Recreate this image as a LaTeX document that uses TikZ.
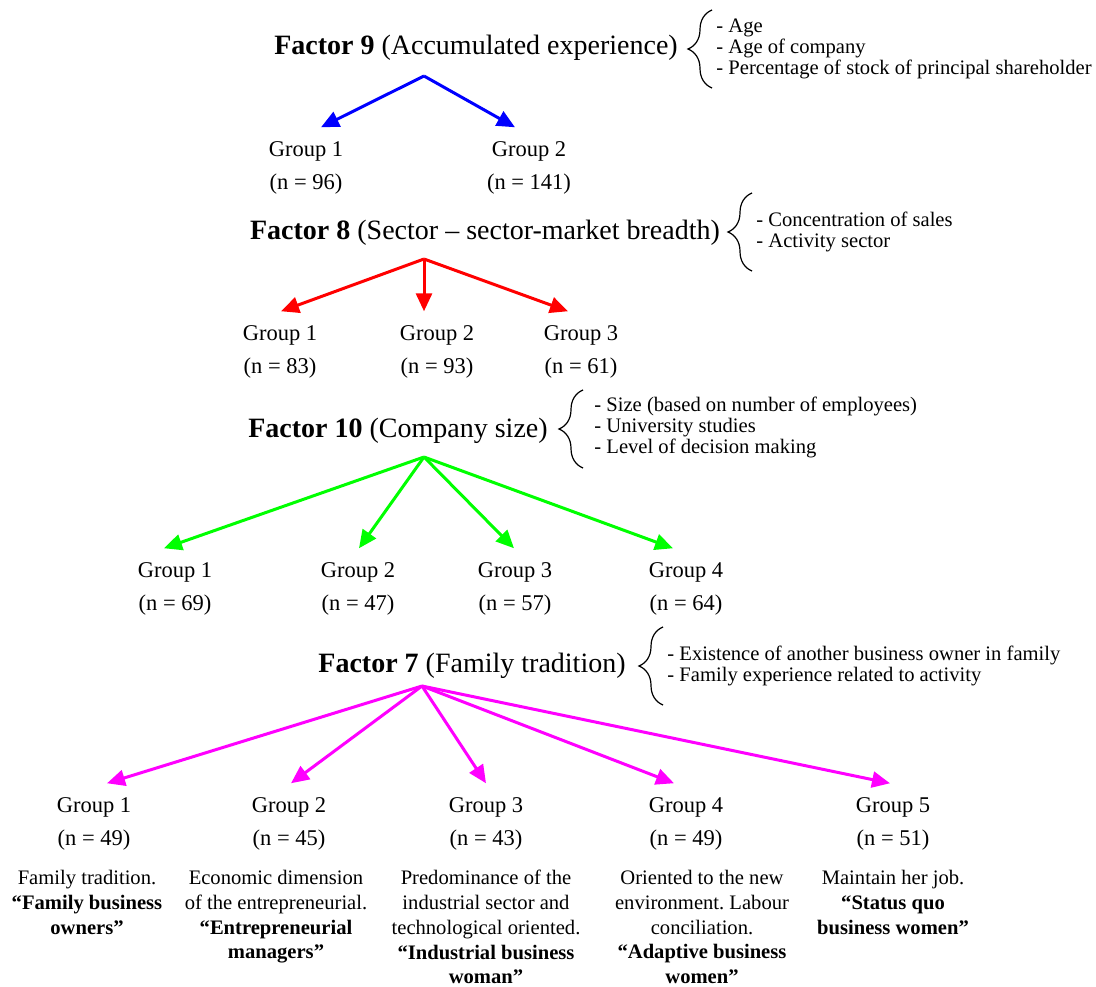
\documentclass[tikz,border=0pt]{standalone}
\usepackage{fontspec}
\setmainfont{Liberation Serif}
\usetikzlibrary{positioning,arrows.meta,decorations.pathreplacing}
\definecolor{linkblue}{RGB}{0,0,255}
\definecolor{linkred}{RGB}{255,0,0}
\definecolor{linkgreen}{RGB}{0,255,0}
\definecolor{linkmagenta}{RGB}{255,0,255}
\frenchspacing

\begin{document}
\begin{tikzpicture}[x=0.5pt,y=-0.5pt]
	\tikzstyle{factor}=[font=\fontsize{14}{16}\selectfont, inner sep=0pt]
	\tikzstyle{group}=[align=center, font=\fontsize{11.25}{16.5}\selectfont, inner xsep=0pt, inner ysep=7pt]
	\tikzstyle{items}=[align=left, anchor=west, font=\fontsize{10.3}{10.5}\selectfont, inner sep=0pt]
	\tikzstyle{profile}=[align=center, anchor=north, font=\fontsize{10.3}{12.35}\selectfont, inner sep=0pt]
	\tikzstyle{curly}=[decorate, decoration={brace, amplitude=12pt}, line width=0.6pt]
	\tikzstyle{split}=[-{Triangle[length=9pt,width=8pt]}, line width=1.5pt]
	\useasboundingbox (0,0) rectangle (1096,986);

	% Factor 9
	\node (f9) [factor] at (476,48) {\textbf{Factor 9} (Accumulated experience)};
	\node (l9) [items] at (716,49) {- Age\\- Age of company\\- Percentage of stock of principal shareholder};
	\draw[curly] ([xshift=-2pt,yshift=-19.5pt]l9.west) -- ([xshift=-2pt,yshift=19.5pt]l9.west);
	\coordinate (r9) at (424,76);
	\node (g91) [group] at (306,168) {Group 1\\(n = 96)};
	\node (g92) [group] at (529,168) {Group 2\\(n = 141)};
	\draw[split, linkblue] (r9) -- ([xshift=7.5pt]g91.north);
	\draw[split, linkblue] (r9) -- ([xshift=-7pt]g92.north);

	% Factor 8
	\node (f8) [factor] at (485,233) {\textbf{Factor 8} (Sector -- sector-market breadth)};
	\node (l8) [items] at (756,232) {- Concentration of sales\\- Activity sector};
	\draw[curly] ([xshift=-2pt,yshift=-19.5pt]l8.west) -- ([xshift=-2pt,yshift=19.5pt]l8.west);
	\coordinate (r8) at (424,259);
	\node (g81) [group] at (280,352) {Group 1\\(n = 83)};
	\node (g82) [group] at (437,352) {Group 2\\(n = 93)};
	\node (g83) [group] at (581,352) {Group 3\\(n = 61)};
	\draw[split, linkred] (r8) -- ([xshift=0.5pt]g81.north);
	\draw[split, linkred] (r8) -- ([xshift=-6.5pt]g82.north);
	\draw[split, linkred] (r8) -- ([xshift=-6.5pt]g83.north);

	% Factor 10
	\node (f10) [factor] at (398,431) {\textbf{Factor 10} (Company size)};
	\node (l10) [items] at (594,427) {- Size (based on number of employees)\\- University studies\\- Level of decision making};
	\draw[curly] ([xshift=-5.5pt,yshift=-20.5pt]l10.west) -- ([xshift=-5.5pt,yshift=18.5pt]l10.west);
	\coordinate (r10) at (424,457);
	\node (g101) [group] at (175,589) {Group 1\\(n = 69)};
	\node (g102) [group] at (358,589) {Group 2\\(n = 47)};
	\node (g103) [group] at (515,589) {Group 3\\(n = 57)};
	\node (g104) [group] at (686,589) {Group 4\\(n = 64)};
	\draw[split, linkgreen] (r10) -- ([xshift=-5.5pt]g101.north);
	\draw[split, linkgreen] (r10) -- ([xshift=0.5pt]g102.north);
	\draw[split, linkgreen] (r10) -- ([xshift=-0.5pt]g103.north);
	\draw[split, linkgreen] (r10) -- ([xshift=-6.5pt]g104.north);

	% Factor 7
	\node (f7) [factor] at (472,666) {\textbf{Factor 7} (Family tradition)};
	\node (l7) [items] at (667,666) {- Existence of another business owner in family\\- Family experience related to activity};
	\draw[curly] ([xshift=-2pt,yshift=-19.5pt]l7.west) -- ([xshift=-2pt,yshift=19.5pt]l7.west);
	\coordinate (r7) at (422,686);
	\node (g71) [group] at (94,824) {Group 1\\(n = 49)};
	\node (g72) [group] at (289,824) {Group 2\\(n = 45)};
	\node (g73) [group] at (486,824) {Group 3\\(n = 43)};
	\node (g74) [group] at (686,824) {Group 4\\(n = 49)};
	\node (g75) [group] at (893,824) {Group 5\\(n = 51)};
	\draw[split, linkmagenta] (r7) -- ([xshift=6.5pt]g71.north);
	\draw[split, linkmagenta] (r7) -- ([xshift=1pt]g72.north);
	\draw[split, linkmagenta] (r7) -- ([xshift=0pt]g73.north);
	\draw[split, linkmagenta] (r7) -- ([xshift=-6pt]g74.north);
	\draw[split, linkmagenta] (r7) -- ([xshift=-1.5pt]g75.north);

	% profiles
	\node (d71) [profile] at (87,870) {Family tradition.\\\textbf{“Family business}\\\textbf{owners”}};
	\node (d72) [profile] at (276,870) {Economic dimension\\of the entrepreneurial.\\\textbf{“Entrepreneurial}\\\textbf{managers”}};
	\node (d73) [profile] at (486,870) {Predominance of the\\industrial sector and\\technological oriented.\\\textbf{“Industrial business}\\\textbf{woman”}};
	\node (d74) [profile] at (702,870) {Oriented to the new\\environment. Labour\\conciliation.\\\textbf{“Adaptive business}\\\textbf{women”}};
	\node (d75) [profile] at (893,870) {Maintain her job.\\\textbf{“Status quo}\\\textbf{business women”}};
\end{tikzpicture}
\end{document}
